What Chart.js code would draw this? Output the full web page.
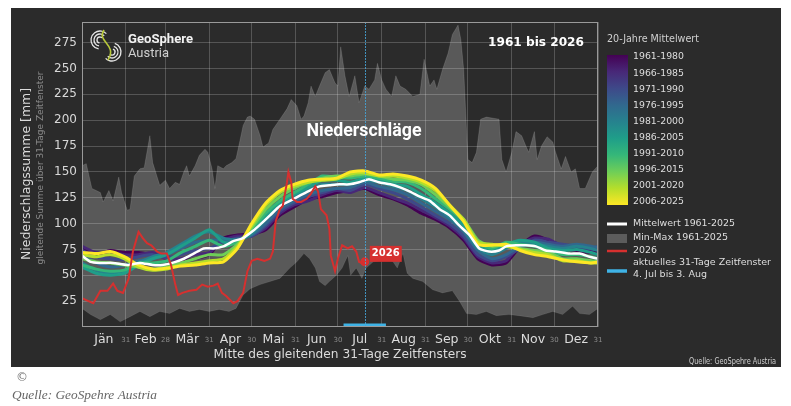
<!DOCTYPE html>
<html>
<head>
<meta charset="utf-8">
<title>Niederschläge 1961 bis 2026</title>
<script src="https://cdn.jsdelivr.net/npm/chart.js@4.4.0/dist/chart.umd.min.js"></script>
<style>
html, body { margin: 0; padding: 0; background: #fff; }
#wrap { position: relative; width: 791px; height: 406px; }
</style>
</head>
<body>
<div id="wrap"><canvas id="rainChart" width="791" height="406"></canvas></div>
<script>

// x axis: day of year, month names and month lengths
const monthNames = ['Jän', 'Feb', 'Mär', 'Apr', 'Mai', 'Jun', 'Jul', 'Aug', 'Sep', 'Okt', 'Nov', 'Dez'];
const monthDays = [31, 28, 31, 30, 31, 30, 31, 31, 30, 31, 30, 31];
const yTicks = [25, 50, 75, 100, 125, 150, 175, 200, 225, 250, 275];

// 20-year means (colour bar)
const periodLabels = ['1961-1980', '1966-1985', '1971-1990', '1976-1995', '1981-2000',
                      '1986-2005', '1991-2010', '1996-2015', '2001-2020', '2006-2025'];
const bandDays = [0, 10, 20, 30, 40, 50, 60, 70, 80, 90, 100, 110, 120, 130, 140, 150, 160, 170, 180,
                  190, 200, 210, 220, 230, 240, 250, 260, 270, 280, 290, 300, 310, 320, 330, 340, 350, 360, 365];
const band1961 = [76,70,74,72,72,70,68,64,66,70,86,89,90,94,108,116,124,126,130,132,134,128,124,118,110,104,96,84,66,60,62,78,88,84,76,74,72,74];
const band1966 = [78,72,72,70,70,72,66,66,70,72,84,88,88,96,110,118,122,128,132,130,135,130,125,120,113,106,98,86,68,62,64,80,86,85,78,76,74,76];
const band1971 = [74,68,66,65,68,70,67,70,74,76,82,86,88,98,112,120,126,130,134,132,138,134,130,124,116,108,100,88,70,64,68,76,84,82,80,78,76,78];
const band1976 = [70,62,58,60,64,66,70,76,82,84,84,85,89,100,114,122,128,132,134,135,140,136,133,128,120,112,104,92,74,66,70,78,82,80,78,80,78,77];
const band1981 = [62,55,52,54,62,68,72,80,88,92,86,84,90,104,118,126,132,138,138,138,142,140,136,132,124,116,106,94,76,70,76,82,80,78,76,78,76,74];
const band1986 = [58,52,50,52,60,66,70,78,86,94,82,82,92,106,120,128,135,142,142,140,144,142,138,136,128,120,110,98,78,74,80,84,82,76,74,75,72,70];
const band1991 = [60,56,54,55,62,62,64,72,78,84,78,82,94,110,122,130,138,146,145,144,146,144,141,140,134,124,114,102,82,76,82,80,78,74,70,70,68,66];
const band1996 = [66,63,62,60,58,56,58,62,66,70,70,80,96,114,126,134,140,144,146,146,148,146,143,142,138,128,116,104,84,78,80,76,74,72,66,66,64,63];
const band2001 = [70,68,70,66,58,55,56,60,62,64,66,78,98,118,130,136,140,142,143,148,149,146,146,144,140,132,118,104,82,80,78,75,72,70,64,64,62,62];
const band2006 = [72,71,73,68,60,56,57,59,60,62,63,76,100,120,132,138,142,143,144,150,151,147,148,146,142,134,118,102,80,79,80,74,70,68,65,63,62,63];
const bandSeries = [band1961, band1966, band1971, band1976, band1981, band1986, band1991, band1996, band2001, band2006];

// Mittelwert 1961-2025
const meanDays = [0,6,13,22,32,41,50,57,64,72,79,86,93,100,107,114,121,126,133,140,147,154,161,168,175,182,
                  189,196,203,210,218,225,232,239,246,253,260,267,274,281,288,295,300,307,314,321,328,335,345,352,359,365];
const meanValues = [69,63,62,62,60,62,60,60,62,66,71,76,76,78,83,86,93,99,108,117,122,127,132,136,137,138,
                    138,140,143,140,138,135,131,126,122,114,108,98,89,76,73,74,78,79,79,78,74,73,71,71,68,66];

// Min-Max 1961-2025
const maxDays = [0,3,7,13,15,19,22,26,28,32,34,37,41,44,48,50,55,59,62,66,69,72,74,76,80,83,87,89,92,94,96,100,102,106,109,
                 112,114,117,119,122,126,128,132,135,140,145,148,152,155,157,160,162,165,168,172,175,179,181,183,186,189,
                 193,196,200,203,207,209,212,215,219,222,225,229,234,239,242,246,249,251,255,259,262,266,268,270,273,276,
                 279,282,286,295,297,300,304,307,311,314,316,320,322,325,329,333,335,339,342,346,349,352,356,361,365];
const maxValues = [156,158,134,130,121,132,122,145,130,113,114,146,153,154,185,159,137,142,134,140,138,150,156,146,156,166,172,169,153,134,156,153,156,159,163,
                   182,195,203,204,201,185,174,178,191,201,211,220,214,201,204,217,233,223,233,246,249,236,233,271,243,223,
                   243,217,233,230,239,255,239,230,223,243,233,230,223,225,259,233,239,230,249,265,283,292,278,249,162,159,
                   169,201,203,201,162,150,169,189,185,175,169,189,162,175,184,179,169,153,165,150,153,134,134,150,156];
const minDays = [0,6,13,20,27,34,41,48,55,62,69,76,83,90,97,104,109,114,119,126,133,140,147,152,157,161,165,168,172,175,
                 180,184,188,190,194,198,201,206,210,215,220,223,227,230,234,241,248,255,262,267,272,279,286,293,302,
                 309,319,326,333,340,347,352,359,365];
const minValues = [18,12,7,12,5,10,15,10,15,13,18,15,17,15,17,15,18,31,37,41,44,47,57,63,71,66,57,44,40,44,
                   50,57,69,50,57,47,57,63,64,68,63,57,71,52,47,44,36,33,35,25,13,12,15,11,12,
                   11,9,12,15,12,20,13,12,18];

// 2026
const days2026 = [0,3,8,13,18,22,25,29,33,36,40,43,46,49,53,56,60,63,66,68,71,76,81,85,89,93,96,99,102,107,110,114,117,120,
                  124,129,133,135,137,140,142,145,146,148,149,152,155,159,162,165,167,169,173,175,176,179,181,184,188,191,
                  194,196,198,200];
const values2026 = [28,26,23,35,35,42,35,33,47,73,92,86,81,79,73,71,71,60,41,31,33,35,36,41,39,40,42,33,30,23,25,33,54,64,
                    66,64,66,73,102,114,117,140,150,140,124,121,121,124,129,136,131,114,108,95,69,54,66,79,76,78,
                    73,63,62,63];

// aktuelles 31-Tage Zeitfenster: 4. Jul bis 3. Aug
const windowStart = 185;
const windowEnd = 215;

const viridis = ['#440154', '#482878', '#3e4989', '#31688e', '#26828e', '#1f9e89', '#35b779', '#6ece58', '#b5de2b', '#fde725'];
const gridColor = 'rgba(255,255,255,0.2)';
const monthEnds = [];
monthDays.reduce((sum, d) => { monthEnds.push(sum + d); return sum + d; }, 0);
const monthMids = monthEnds.map((end, i) => end - monthDays[i] / 2);

function toPoints(days, vals) {
    return days.map((d, i) => ({ x: d, y: vals[i] }));
}

function isMonthEnd(ctx) {
    return !!(ctx.tick && monthEnds.includes(ctx.tick.value));
}

function fitText(ctx, txt, x, y, w, align) {
    const m = ctx.measureText(txt).width;
    ctx.save();
    ctx.translate(x, y);
    ctx.scale(w / m, 1);
    ctx.textAlign = align || 'left';
    ctx.fillText(txt, 0, 0);
    ctx.restore();
}

//Background panel
const panelBg = {
    id: 'panelBg',
    beforeDraw(chart) {
        const ctx = chart.ctx;
        ctx.save();
        ctx.fillStyle = '#ffffff';
        ctx.fillRect(0, 0, chart.width, chart.height);
        ctx.fillStyle = '#2b2b2b';
        ctx.fillRect(11, 8, 770, 359);
        ctx.restore();
    }
};

//Texts, legend, colour bar, logo
const decorations = {
    id: 'decorations',
    afterDatasetsDraw(chart) {
        const ctx = chart.ctx;
        const a = chart.chartArea;
        const xs = chart.scales.x, ys = chart.scales.y;
        ctx.save();
        ctx.textBaseline = 'middle';

        // current window centre line
        const cx = Math.round(xs.getPixelForValue((windowStart + windowEnd) / 2)) + 0.5;
        ctx.strokeStyle = 'rgba(70,165,215,0.85)';
        ctx.lineWidth = 1;
        ctx.setLineDash([2, 1]);
        ctx.beginPath(); ctx.moveTo(cx, a.top); ctx.lineTo(cx, a.bottom); ctx.stroke();
        ctx.setLineDash([]);

        // frame
        ctx.strokeStyle = '#9a9a9a';
        ctx.strokeRect(a.left + 0.5, a.top + 0.5, a.right - a.left - 1, a.bottom - a.top - 1);

        // 2026 label at the last point
        const li = days2026.length - 1;
        const px = xs.getPixelForValue(days2026[li]), py = ys.getPixelForValue(values2026[li]);
        ctx.fillStyle = '#d6302f';
        ctx.fillRect(px + 5, py - 16, 32, 16);
        ctx.fillStyle = '#ffffff';
        ctx.font = 'bold 10px "DejaVu Sans"';
        ctx.textAlign = 'center';
        ctx.fillText('2026', px + 21, py - 8);

        // titles
        ctx.font = 'bold 18px "Liberation Sans Narrow", Roboto, sans-serif';
        fitText(ctx, 'Niederschläge', 364, 131, 115, 'center');
        ctx.font = 'bold 12px "DejaVu Sans"';
        fitText(ctx, '1961 bis 2026', 488, 43, 96, 'left');

        // logo
        ctx.strokeStyle = '#e6e6e6';
        ctx.lineWidth = 1.3;
        [3, 6, 9].forEach(r => {
            ctx.beginPath(); ctx.arc(100, 40, r, 0.55 * Math.PI, 1.75 * Math.PI); ctx.stroke();
            ctx.beginPath(); ctx.arc(112, 52, r, 1.6 * Math.PI, 2.75 * Math.PI); ctx.stroke();
        });
        ctx.strokeStyle = '#b9c93a';
        ctx.lineWidth = 1.6;
        ctx.beginPath(); ctx.moveTo(104, 30); ctx.bezierCurveTo(96, 42, 118, 44, 108, 60); ctx.stroke();
        ctx.fillStyle = '#f2f2f2';
        ctx.font = 'bold 13px Roboto, "DejaVu Sans"';
        fitText(ctx, 'GeoSphere', 128, 40, 65, 'left');
        ctx.fillStyle = '#d0d0d0';
        ctx.font = '13px Roboto, "DejaVu Sans"';
        fitText(ctx, 'Austria', 128, 54, 41, 'left');

        // axis titles
        ctx.fillStyle = '#dcdcdc';
        ctx.font = '12px "DejaVu Sans"';
        fitText(ctx, 'Mitte des gleitenden 31-Tage Zeitfensters', (a.left + a.right) / 2, 355, 253, 'center');
        ctx.save();
        ctx.translate(27, 174);
        ctx.rotate(-Math.PI / 2);
        fitText(ctx, 'Niederschlagssumme [mm]', 0, 0, 172, 'center');
        ctx.fillStyle = '#8a8a8a';
        ctx.font = '9px "DejaVu Sans"';
        fitText(ctx, 'gleitende Summe über 31-Tage Zeitfenster', 6, 14, 193, 'center');
        ctx.restore();

        // colour bar legend
        ctx.fillStyle = '#d0d0d0';
        ctx.font = '10px "DejaVu Sans"';
        fitText(ctx, '20-Jahre Mittelwert', 607, 39, 92, 'left');
        const grad = ctx.createLinearGradient(0, 55, 0, 205);
        viridis.forEach((c, i) => grad.addColorStop(i / (viridis.length - 1), c));
        ctx.fillStyle = grad;
        ctx.fillRect(607, 55, 21, 150);
        ctx.fillStyle = '#dedede';
        ctx.font = '9.5px "DejaVu Sans"';
        periodLabels.forEach((lab, i) => fitText(ctx, lab, 633, 57 + i * 16.1, 51, 'left'));

        // line legend
        ctx.lineWidth = 3;
        ctx.strokeStyle = '#ffffff';
        ctx.beginPath(); ctx.moveTo(607, 224); ctx.lineTo(627, 224); ctx.stroke();
        ctx.fillStyle = '#5c5c5c';
        ctx.fillRect(607, 234, 20, 9);
        ctx.lineWidth = 2.5;
        ctx.strokeStyle = '#d6302f';
        ctx.beginPath(); ctx.moveTo(607, 251); ctx.lineTo(627, 251); ctx.stroke();
        ctx.lineWidth = 3.5;
        ctx.strokeStyle = '#3fb3e6';
        ctx.beginPath(); ctx.moveTo(607, 271); ctx.lineTo(627, 271); ctx.stroke();
        ctx.fillStyle = '#dedede';
        fitText(ctx, 'Mittelwert 1961-2025', 633, 224, 102, 'left');
        fitText(ctx, 'Min-Max 1961-2025', 633, 238, 95, 'left');
        fitText(ctx, '2026', 633, 251, 24, 'left');
        fitText(ctx, 'aktuelles 31-Tage Zeitfenster', 633, 263, 138, 'left');
        fitText(ctx, '4. Jul bis 3. Aug', 633, 275, 74, 'left');

        // source
        ctx.fillStyle = '#cfcfcf';
        ctx.font = '9px "Liberation Sans Narrow", "DejaVu Sans"';
        fitText(ctx, 'Quelle: GeoSpehre Austria', 776, 362, 87, 'right');

        ctx.fillStyle = '#777777';
        ctx.font = '12px "DejaVu Sans"';
        ctx.textAlign = 'left';
        ctx.fillText('©', 16, 378);
        ctx.fillStyle = '#666666';
        ctx.font = 'italic 13px "Liberation Serif", serif';
        fitText(ctx, 'Quelle: GeoSpehre Austria', 12, 396, 145, 'left');

        ctx.restore();
    }
};

const datasets = [
    { label: 'Max', data: toPoints(maxDays, maxValues), fill: 1,
      backgroundColor: 'rgba(255,255,255,0.22)', borderColor: 'rgba(255,255,255,0.12)', borderWidth: 1,
      pointRadius: 0, tension: 0, order: 100 },
    { label: 'Min', data: toPoints(minDays, minValues), fill: false,
      borderColor: 'rgba(255,255,255,0.08)', borderWidth: 1, pointRadius: 0, tension: 0, order: 99 }
];

bandSeries.forEach((vals, i) => {
    datasets.push({ label: periodLabels[i], data: toPoints(bandDays, vals), fill: false,
        borderColor: viridis[i], borderWidth: 3, pointRadius: 0, tension: 0.2, order: 60 - i });
});

datasets.push({ label: 'Mittelwert 1961-2025', data: toPoints(meanDays, meanValues), fill: false,
    borderColor: '#ffffff', borderWidth: 2.5, pointRadius: 0, tension: 0.2, order: 3 });
datasets.push({ label: '2026', data: toPoints(days2026, values2026), fill: false,
    borderColor: '#d6302f', backgroundColor: '#d6302f', borderWidth: 2,
    pointRadius: ctx => ctx.dataIndex === days2026.length - 1 ? 3.5 : 0, tension: 0, order: 2 });
datasets.push({ label: 'Zeitfenster', data: [{ x: windowStart, y: 1.5 }, { x: windowEnd, y: 1.5 }], fill: false,
    borderColor: '#3fb3e6', borderWidth: 4, pointRadius: 0, order: 1 });

const rainChart = new Chart(document.getElementById('rainChart'), {
    type: 'line',
    data: { datasets: datasets },
    options: {
        responsive: false,
        animation: false,
        layout: { padding: { left: 0, top: 22, right: 193, bottom: 0 } },
        plugins: { legend: { display: false }, tooltip: { enabled: false } },
        scales: {
            x: {
                type: 'linear', min: 0, max: 365,
                afterBuildTicks(scale) {
                    scale.ticks = monthMids.concat(monthEnds).sort((p, q) => p - q).map(v => ({ value: v }));
                },
                afterFit(scale) { scale.height = 79; },
                grid: {
                    drawTicks: false,
                    color: ctx => isMonthEnd(ctx) ? gridColor : 'rgba(0,0,0,0)'
                },
                border: { display: false },
                ticks: {
                    autoSkip: false, maxRotation: 0, padding: 5,
                    callback: v => {
                        const m = monthMids.indexOf(v);
                        if (m >= 0) return monthNames[m];
                        const e = monthEnds.indexOf(v);
                        return e >= 0 ? String(monthDays[e]) : '';
                    },
                    color: ctx => isMonthEnd(ctx) ? '#8c8c8c' : '#dcdcdc',
                    font: ctx => isMonthEnd(ctx)
                        ? { family: 'DejaVu Sans', size: 7, lineHeight: 15.6 / 7 }
                        : { family: 'DejaVu Sans', size: 12.5, lineHeight: 15.6 / 12.5 }
                }
            },
            y: {
                min: 0, max: 295,
                afterBuildTicks(scale) { scale.ticks = yTicks.map(v => ({ value: v })); },
                afterFit(scale) { scale.width = 82; },
                grid: { drawTicks: false, color: gridColor },
                border: { display: false },
                ticks: { color: '#d8d8d8', padding: 5, font: { family: 'DejaVu Sans', size: 12 } }
            }
        }
    },
    plugins: [panelBg, decorations]
});
</script>
</body>
</html>
